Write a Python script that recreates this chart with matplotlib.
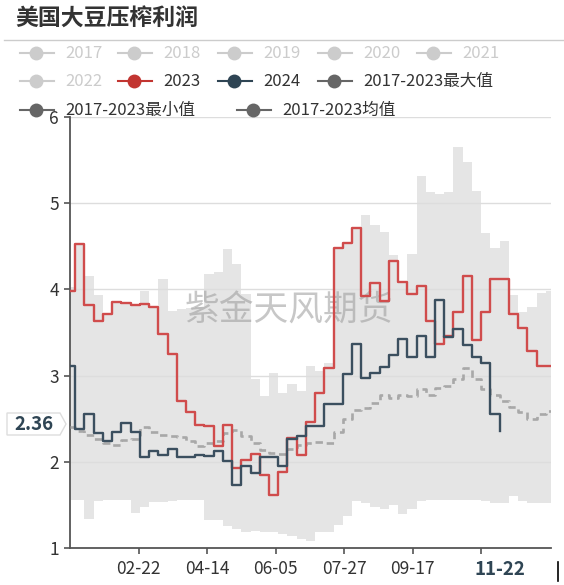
import matplotlib
matplotlib.use('Agg')
import matplotlib.pyplot as plt
from matplotlib.patches import Polygon
from matplotlib.lines import Line2D
import pandas as pd

plt.rcParams['font.family'] = ['Noto Sans CJK SC', 'DejaVu Sans']

# category axis: every day of a leap year, labelled MM-DD
axis_dates = pd.date_range('2024-01-01', '2024-12-31', freq='D')
# weekly observation dates (Fridays), first value carried from 01-01
week_dates = [pd.Timestamp('2024-01-01')] + list(pd.date_range('2024-01-05', periods=52, freq='7D'))
week_pos = [(d - axis_dates[0]).days for d in week_dates]
end_pos = len(axis_dates) - 1

tick_dates = ['02-22', '04-14', '06-05', '07-27', '09-17', '11-08']
pointer_date = '11-22'
pointer_value = '2.36'

# 2023 crush margin
y2023 = [3.98, 4.53, 3.82, 3.63, 3.71, 3.85, 3.84, 3.82, 3.83, 3.80,
         3.48, 3.25, 2.71, 2.58, 2.43, 2.42, 2.18, 2.43, 1.93, 2.02,
         2.09, 1.85, 1.62, 1.88, 2.28, 2.08, 2.46, 2.80, 3.09, 4.48,
         4.54, 4.71, 3.92, 4.07, 3.86, 4.33, 4.09, 3.95, 4.04, 3.63,
         3.37, 3.46, 3.74, 4.15, 3.41, 3.74, 4.12, 4.12, 3.72, 3.55,
         3.28, 3.11, 3.11]

# 2024 crush margin (up to 11-22)
y2024 = [3.11, 2.38, 2.56, 2.33, 2.24, 2.34, 2.45, 2.35, 2.06, 2.12,
         2.08, 2.15, 2.05, 2.06, 2.08, 2.07, 2.12, 2.01, 1.73, 1.95,
         1.87, 2.06, 2.05, 1.95, 2.26, 2.30, 2.41, 2.41, 2.67, 2.67,
         3.02, 3.37, 2.97, 3.03, 3.10, 3.24, 3.42, 3.22, 3.46, 3.21,
         3.88, 3.45, 3.54, 3.36, 3.21, 3.15, 2.55, 2.36]

# 2017-2023 max / min / mean
y_max = [4.03, 4.53, 4.15, 3.93, 3.71, 3.85, 3.84, 3.82, 3.98, 3.80,
         4.12, 3.75, 3.77, 3.78, 3.80, 4.18, 4.20, 4.47, 4.30, 3.95,
         2.96, 2.76, 3.03, 2.80, 2.90, 2.82, 3.11, 3.05, 3.15, 4.48,
         4.54, 4.71, 4.86, 4.75, 4.67, 4.40, 4.09, 4.41, 5.31, 5.13,
         5.11, 5.13, 5.65, 5.48, 5.14, 4.66, 4.48, 4.56, 3.94, 3.74,
         3.80, 3.96, 3.98]
y_min = [1.56, 1.56, 1.34, 1.54, 1.56, 1.56, 1.56, 1.41, 1.48, 1.53,
         1.53, 1.55, 1.56, 1.56, 1.56, 1.33, 1.33, 1.25, 1.22, 1.18,
         1.20, 1.19, 1.18, 1.16, 1.14, 1.10, 1.08, 1.18, 1.19, 1.27,
         1.37, 1.54, 1.52, 1.48, 1.45, 1.50, 1.39, 1.45, 1.54, 1.56,
         1.56, 1.56, 1.56, 1.56, 1.56, 1.54, 1.52, 1.52, 1.60, 1.55,
         1.52, 1.52, 1.52]
y_mean = [2.40, 2.36, 2.31, 2.26, 2.22, 2.20, 2.25, 2.27, 2.40, 2.35,
          2.31, 2.30, 2.29, 2.24, 2.18, 2.22, 2.24, 2.33, 2.37, 2.30,
          2.22, 2.14, 2.10, 2.09, 2.15, 2.20, 2.22, 2.23, 2.22, 2.34,
          2.50, 2.60, 2.62, 2.68, 2.78, 2.74, 2.78, 2.76, 2.85, 2.78,
          2.86, 2.88, 2.96, 3.09, 2.96, 2.84, 2.78, 2.71, 2.64, 2.58,
          2.50, 2.55, 2.59]

RED = '#d04c4c'
NAVY = '#3b4f5f'
W, H = 564, 585

fig = plt.figure(figsize=(W / 100, H / 100), dpi=100)
ax = fig.add_axes([70 / W, 37 / H, 481 / W, 431 / H])
ov = fig.add_axes([0, 0, 1, 1], zorder=5)
ov.set_xlim(0, W)
ov.set_ylim(H, 0)
ov.axis('off')
ov.patch.set_alpha(0)

xs = week_pos + [end_pos]
def ext(v):
    return v + [v[-1]]

ax.fill_between(xs, ext(y_min), ext(y_max), step='post', color='#e5e5e5', lw=0, zorder=1)
for yv in range(2, 7):
    ax.axhline(yv, color='#dddddd', lw=1, zorder=2)
ax.text(289, 311, '紫金天风期货', transform=ov.transData, ha='center', va='center',
        fontsize=25, color='#999999', alpha=0.55, zorder=3, clip_on=False)
ax.step(xs, ext(y_mean), where='post', color='#a8a8a8', lw=1.9, dashes=(2.8, 1.8), zorder=4)
ax.step(xs, ext(y2023), where='post', color=RED, lw=1.7, zorder=5)
ax.step(week_pos[:len(y2024)], y2024, where='post', color=NAVY, lw=1.7, zorder=6)

ax.set_xlim(0, end_pos)
ax.set_ylim(1, 6)
ax.set_yticks(range(1, 7))
tick_pos = [list(axis_dates.strftime('%m-%d')).index(t) for t in tick_dates]
ax.set_xticks(tick_pos)
ax.set_xticklabels(tick_dates[:-1] + [''])
ax.tick_params(axis='both', colors='#555555', labelcolor='#333333', labelsize=12.5, length=4, width=1.2)
ax.tick_params(axis='x', pad=5)
ax.tick_params(axis='y', pad=4)
for s in ['top', 'right']:
    ax.spines[s].set_visible(False)
for s in ['left', 'bottom']:
    ax.spines[s].set_color('#555555')
    ax.spines[s].set_linewidth(1.3)

# pointer labels
pptr = list(axis_dates.strftime('%m-%d')).index(pointer_date)
ax.text(pptr, -0.051, pointer_date, transform=ax.get_xaxis_transform(), ha='center', va='center',
        fontsize=13.5, fontweight='bold', color='#2f4554', clip_on=False)
ov.add_patch(Polygon([(7, 413), (60, 413), (66, 424), (60, 435), (7, 435)],
                     closed=True, facecolor='white', edgecolor='#dddddd', lw=1))
ov.text(34, 424, pointer_value, ha='center', va='center', fontsize=13.5, fontweight='bold', color='#2f4554')
ov.plot([558, 558], [562, 581], color='black', lw=1.2)

# title
ov.text(15, 19, '美国大豆压榨利润', ha='left', va='center', fontsize=16.5, fontweight='bold', color='#333333')
ov.plot([4, W], [40, 40], color='#cccccc', lw=1)

# legend
legend_items = [
    ('2017', '#cccccc', '#cccccc', 20, 53),
    ('2018', '#cccccc', '#cccccc', 118, 53),
    ('2019', '#cccccc', '#cccccc', 218, 53),
    ('2020', '#cccccc', '#cccccc', 318, 53),
    ('2021', '#cccccc', '#cccccc', 417, 53),
    ('2022', '#cccccc', '#cccccc', 20, 81),
    ('2023', '#c23531', '#333333', 118, 81),
    ('2024', '#2f4554', '#333333', 218, 81),
    ('2017-2023最大值', '#666666', '#333333', 318, 81),
    ('2017-2023最小值', '#666666', '#333333', 20, 110),
    ('2017-2023均值', '#666666', '#333333', 237, 110),
]
for name, mc, tc, x0, y0 in legend_items:
    ov.add_line(Line2D([x0, x0 + 34], [y0, y0], color=mc, lw=1.5))
    ov.plot([x0 + 16], [y0], 'o', color=mc, markersize=10, markeredgewidth=0)
    ov.text(x0 + 45, y0, name, ha='left', va='center', fontsize=12, color=tc)

fig.savefig('out.png', dpi=100)
